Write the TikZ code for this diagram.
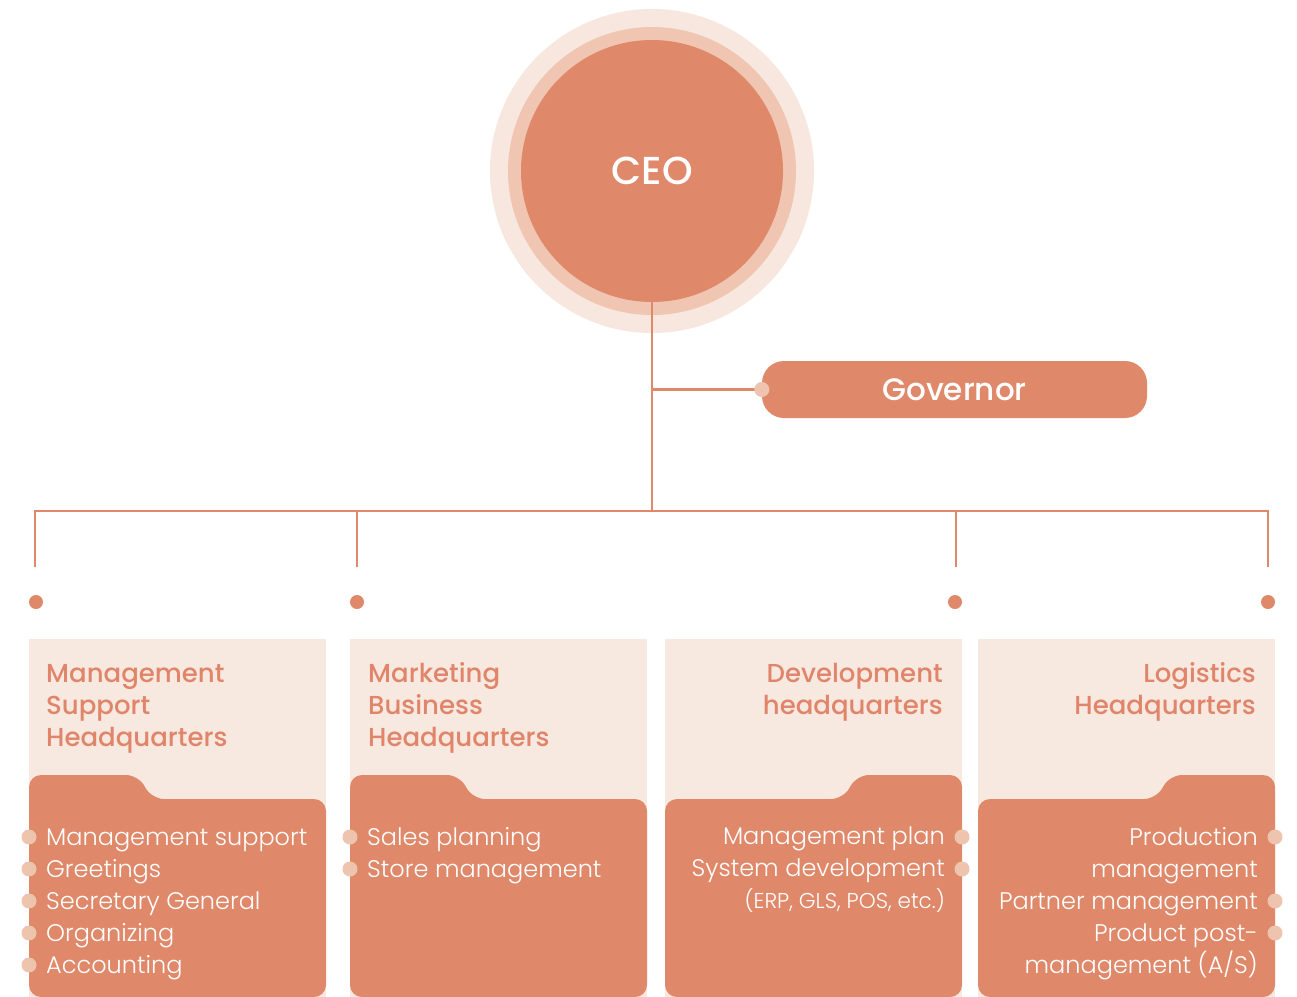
\documentclass[tikz,border=0pt]{standalone}
\usepackage{fontspec}
\newfontfamily\lightf{Poppins Light}
\newfontfamily\medf{Poppins Medium}
\newfontfamily\regf{Poppins}
\definecolor{main}{HTML}{DF896A}
\definecolor{ringA}{HTML}{F7E7DE}
\definecolor{ringB}{HTML}{F0C6B2}
\definecolor{panelbg}{HTML}{F7E8E0}
\definecolor{bul}{HTML}{EEC4AE}
\definecolor{head}{HTML}{E0856A}
\tikzset{
  conn/.style={draw=main, line width=2.5pt},
  dotnode/.style={circle, fill=main, minimum size=14pt, inner sep=0pt},
  bulnode/.style={circle, fill=bul, minimum size=15pt, inner sep=0pt},
  heading/.style={inner sep=0pt, text=head, font=\medf\fontsize{26}{32}\selectfont},
  body/.style={inner sep=0pt, text=white, font=\lightf\fontsize{24}{32}\selectfont},
  folder/.style={fill=main, rounded corners=12pt},
}
\begin{document}
\begin{tikzpicture}[x=1pt,y=-1pt]
\clip (0,0) rectangle (1297,996);
\fill[white] (0,0) rectangle (1297,996);
% CEO
\fill[ringA] (652,171) circle (162pt);
\fill[ringB] (652,171) circle (144pt);
\node[circle, fill=main, minimum size=262pt, inner sep=0pt, text=white, font=\medf\fontsize{39}{48}\selectfont] (ceo) at (652,171) {CEO};
% Governor
\node[rectangle, rounded corners=22pt, fill=main, minimum width=385pt, minimum height=57pt, inner sep=0pt, text=white, font=\medf\fontsize{31}{40}\selectfont] (gov) at (954.5,389.5) {Governor};
% connectors
\coordinate (gj) at (652,389.5);
\coordinate (hub) at (652,511);
\coordinate (d1) at (35,567);
\coordinate (d2) at (357,567);
\coordinate (d3) at (956,567);
\coordinate (d4) at (1268,567);
\draw[conn] (ceo.south) -- (hub);
\draw[conn] (gj) -- (gov.west);
\node[bulnode] (govdot) at (gov.west) {};
\draw[conn] (hub) -| (d1);
\draw[conn] (hub) -| (d2);
\draw[conn] (hub) -| (d3);
\draw[conn] (hub) -| (d4);
% dots
\node[dotnode] (p1) at (36,602) {};
\node[dotnode] (p2) at (357,602) {};
\node[dotnode] (p3) at (955,602) {};
\node[dotnode] (p4) at (1268,602) {};
% panel backgrounds
\fill[panelbg] (29,639) rectangle (326,1000);
\fill[panelbg] (350,639) rectangle (647,1000);
\fill[panelbg] (665,639) rectangle (962,1000);
\fill[panelbg] (978,639) rectangle (1275,1000);
% folders
\fill[folder] (29,997) -- (29,775) -- (138,775) -- (152,799) -- (326,799) -- (326,997) -- cycle;
\fill[folder] (350,997) -- (350,775) -- (459,775) -- (473,799) -- (647,799) -- (647,997) -- cycle;
\fill[folder] (665,997) -- (665,799) -- (843,799) -- (857,775) -- (962,775) -- (962,997) -- cycle;
\fill[folder] (978,997) -- (978,799) -- (1156,799) -- (1170,775) -- (1275,775) -- (1275,997) -- cycle;
% headings (anchor = baseline of last line)
\node[heading, anchor=base west, align=left] (h1) at (46,746) {Management\\Support\\Headquarters};
\node[heading, anchor=base west, align=left] (h2) at (368,746) {Marketing\\Business\\Headquarters};
\node[heading, anchor=base east, align=right] (h3) at (943,714) {Development\\headquarters};
\node[heading, anchor=base east, align=right] (h4) at (1256,714) {Logistics\\Headquarters};
% bodies (anchor = baseline of last line)
\node[body, anchor=base west, align=left] (b1) at (46,973) {Management support\\Greetings\\Secretary General\\Organizing\\Accounting};
\node[body, anchor=base west, align=left] (b2) at (367,877) {Sales planning\\Store management};
\node[body, anchor=base east, align=right] (b3) at (945,908) {Management plan\\System development\\{\fontsize{21.5}{32}\selectfont (ERP, GLS, POS, etc.)}};
\node[body, anchor=base east, align=right] (b4) at (1258,973) {Production\\management\\Partner management\\Product post-\\management (A/S)};
% bullets
\foreach \y [count=\i] in {837,869,901,933,965} {\node[bulnode] (ba\i) at (29,\y) {};}
\foreach \y [count=\i] in {837,869} {\node[bulnode] (bb\i) at (350,\y) {};}
\foreach \y [count=\i] in {837,869} {\node[bulnode] (bc\i) at (962,\y) {};}
\foreach \y [count=\i] in {837,901,933} {\node[bulnode] (bd\i) at (1275,\y) {};}
\end{tikzpicture}
\end{document}
